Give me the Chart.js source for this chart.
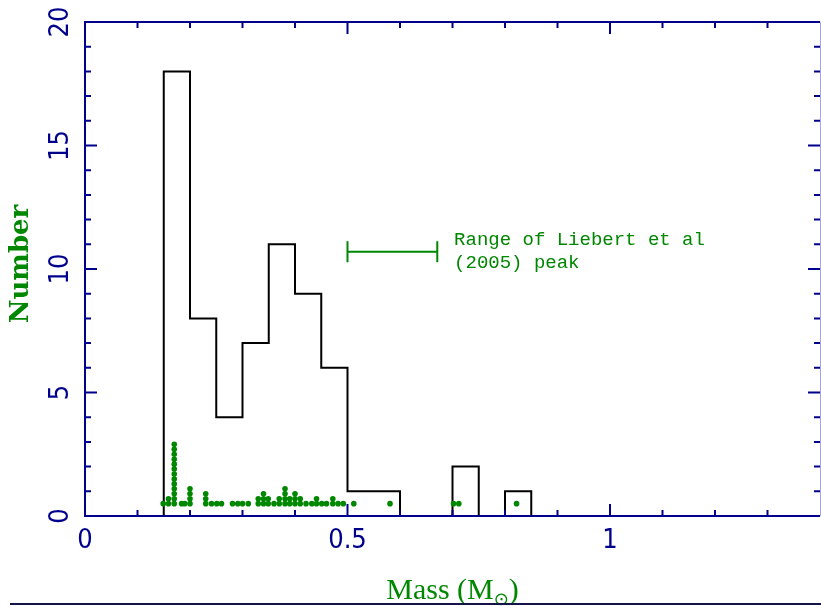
<!DOCTYPE html>
<html><head><meta charset="utf-8">
<script src="https://cdn.jsdelivr.net/npm/chart.js@4.4.1/dist/chart.umd.min.js"></script>
<style>html,body{margin:0;padding:0;background:#fff;} #wrap{width:821px;height:606px;}</style>
</head><body>
<div id="wrap"><canvas id="c" width="821" height="606"></canvas></div>
<script>
// ---- data ----
const binStart = 0.15;
const binWidth = 0.05;
const binCounts = [18, 8, 4, 7, 11, 9, 6, 1, 1, 0, 0, 2, 0, 1];
const dotMasses = [0.149,0.159,0.170,0.184,0.190,0.200,0.230,0.241,0.251,0.260,
                   0.281,0.291,0.300,0.311,0.330,0.340,0.349,0.360,0.370,0.381,
                   0.390,0.400,0.410,0.421,0.432,0.441,0.451,0.460,0.472,0.482,
                   0.492,0.512,0.581,0.702,0.712,0.822];
const dotCounts = [1,2,13,1,1,4,3,1,1,1,
                   1,1,1,1,2,3,2,1,2,4,
                   2,3,2,1,1,2,1,1,2,1,
                   1,1,1,1,1,1];
const rangeX = [0.5, 0.671];
const rangeY = 10.7;
const xTickValues = [0, 0.5, 1];
const yTickLabels = ['0', '5', '10', '15', '20'];
const annotationLines = ['Range of Liebert et al', '(2005) peak'];
const xTitle = ['Mass (M', '\u2299', ')'];
const yTitle = 'Number';

// ---- style / layout constants ----
const NAVY = 'rgb(0,0,140)';
const GREEN = 'rgb(0,135,0)';
const DOT_BASE = 0.5, DOT_STEP = 0.2;
const ANN_X = 0.703, ANN_Y = [10.97, 10.04];

// histogram outline
const histPts = [];
let prev = 0;
binCounts.forEach((c, i) => {
  const l = binStart + i * binWidth, r = l + binWidth;
  if (c > 0) {
    if (prev === 0) histPts.push({x: l, y: 0});
    histPts.push({x: l, y: c}, {x: r, y: c});
  } else if (prev > 0) {
    histPts.push({x: l, y: 0}, {x: l, y: null});
  }
  prev = c;
});
if (prev > 0) histPts.push({x: binStart + binCounts.length * binWidth, y: 0});

// stacked dots
const dotPts = [];
dotMasses.forEach((m, i) => {
  for (let k = 0; k < dotCounts[i]; k++) dotPts.push({x: m, y: DOT_BASE + k * DOT_STEP});
});

const rangePts = rangeX.map(x => ({x, y: rangeY}));

const decor = {
  id: 'decor',
  afterDraw(chart) {
    const ctx = chart.ctx, a = chart.chartArea;
    const xs = chart.scales.x, ys = chart.scales.y;
    ctx.save();
    // frame
    ctx.strokeStyle = NAVY; ctx.lineWidth = 2; ctx.lineCap = 'butt';
    ctx.beginPath();
    ctx.moveTo(a.left, a.bottom); ctx.lineTo(a.right, a.bottom);
    ctx.moveTo(a.left, a.top); ctx.lineTo(a.right, a.top);
    ctx.moveTo(a.left, a.top - 1); ctx.lineTo(a.left, a.bottom + 1);
    ctx.stroke();
    ctx.strokeStyle = 'rgba(0,0,140,0.35)'; ctx.lineWidth = 1;
    ctx.beginPath(); ctx.moveTo(a.right + 0.5, a.top); ctx.lineTo(a.right + 0.5, a.bottom); ctx.stroke();
    // tick marks
    ctx.strokeStyle = NAVY; ctx.lineWidth = 2;
    ctx.beginPath();
    for (let k = 1; k <= 13; k++) {
      const px = xs.getPixelForValue(k / 10), len = (k % 5 === 0) ? 12 : 6;
      ctx.moveTo(px, a.bottom); ctx.lineTo(px, a.bottom - len);
      ctx.moveTo(px, a.top); ctx.lineTo(px, a.top + len);
    }
    for (let k = 1; k <= 19; k++) {
      const py = ys.getPixelForValue(k), len = (k % 5 === 0) ? 12 : 6;
      ctx.moveTo(a.left, py); ctx.lineTo(a.left + len, py);
      ctx.moveTo(a.right, py); ctx.lineTo(a.right - len, py);
    }
    ctx.stroke();
    // y tick labels (rotated)
    ctx.fillStyle = NAVY;
    ctx.font = '27px "DejaVu Sans Condensed", "DejaVu Sans", sans-serif';
    ctx.textAlign = 'center'; ctx.textBaseline = 'alphabetic';
    ys.ticks.forEach((t, i) => {
      const py = ys.getPixelForValue(t.value);
      ctx.save(); ctx.translate(68, py); ctx.rotate(-Math.PI / 2);
      ctx.fillText(yTickLabels[i] !== undefined ? yTickLabels[i] : String(t.value), 0, 0);
      ctx.restore();
    });
    // y title
    ctx.fillStyle = GREEN;
    ctx.font = 'bold 26px "DejaVu Serif", serif';
    ctx.save(); ctx.translate(28, 264); ctx.rotate(-Math.PI / 2);
    ctx.fillText(yTitle, 0, 0); ctx.restore();
    // x title with subscript
    const f1 = '30px "Liberation Serif", serif', f2 = '18px "DejaVu Sans", sans-serif';
    ctx.font = f1; const w1 = ctx.measureText(xTitle[0]).width, w3 = ctx.measureText(xTitle[2]).width;
    ctx.font = f2; const w2 = ctx.measureText(xTitle[1]).width;
    let sx = (a.left + a.right) / 2 - (w1 + w2 + w3) / 2;
    const by = 599;
    ctx.textAlign = 'left';
    ctx.font = f1; ctx.fillText(xTitle[0], sx, by); sx += w1;
    ctx.font = f2; ctx.fillText(xTitle[1], sx, by + 6); sx += w2;
    ctx.font = f1; ctx.fillText(xTitle[2], sx, by);
    // annotation
    ctx.font = '19px "Liberation Mono", monospace';
    annotationLines.forEach((s, i) => {
      ctx.fillText(s, xs.getPixelForValue(ANN_X), ys.getPixelForValue(ANN_Y[i]));
    });
    // bottom rule
    ctx.fillStyle = 'rgb(20,20,70)';
    ctx.fillRect(10, 603, 811, 2);
    ctx.restore();
  }
};

new Chart(document.getElementById('c'), {
  type: 'scatter',
  data: {
    datasets: [
      {data: histPts, showLine: true, borderColor: '#000', borderWidth: 2, pointRadius: 0, spanGaps: false, fill: false, order: 2},
      {data: dotPts, pointRadius: 2.8, backgroundColor: GREEN, borderWidth: 0, order: 1},
      {data: rangePts, showLine: true, borderColor: GREEN, borderWidth: 2, pointStyle: 'line', rotation: 90,
       pointRadius: 10.5, pointBorderColor: GREEN, pointBorderWidth: 2, order: 0}
    ]
  },
  options: {
    responsive: false, animation: false, events: [],
    devicePixelRatio: 1,
    layout: {autoPadding: false, padding: {left: 0, right: 1, top: 22, bottom: 0}},
    plugins: {legend: {display: false}, tooltip: {enabled: false}},
    scales: {
      x: {
        type: 'linear', min: 0, max: 1.4, position: 'bottom',
        grid: {display: false, drawTicks: false}, border: {display: false},
        ticks: {stepSize: 0.5, includeBounds: false, color: NAVY, padding: 9, maxRotation: 0,
          font: {family: '"DejaVu Sans Condensed", "DejaVu Sans", sans-serif', size: 27},
          callback: v => (xTickValues.includes(v) ? String(v) : '')},
        afterFit(s) { s.height = 90; s.paddingLeft = 0; s.paddingRight = 0; }
      },
      y: {
        type: 'linear', min: 0, max: 20,
        grid: {display: false, drawTicks: false}, border: {display: false},
        ticks: {stepSize: 5, display: false},
        afterFit(s) { s.width = 85; s.paddingTop = 0; s.paddingBottom = 0; }
      }
    }
  },
  plugins: [decor]
});
</script>
</body></html>
